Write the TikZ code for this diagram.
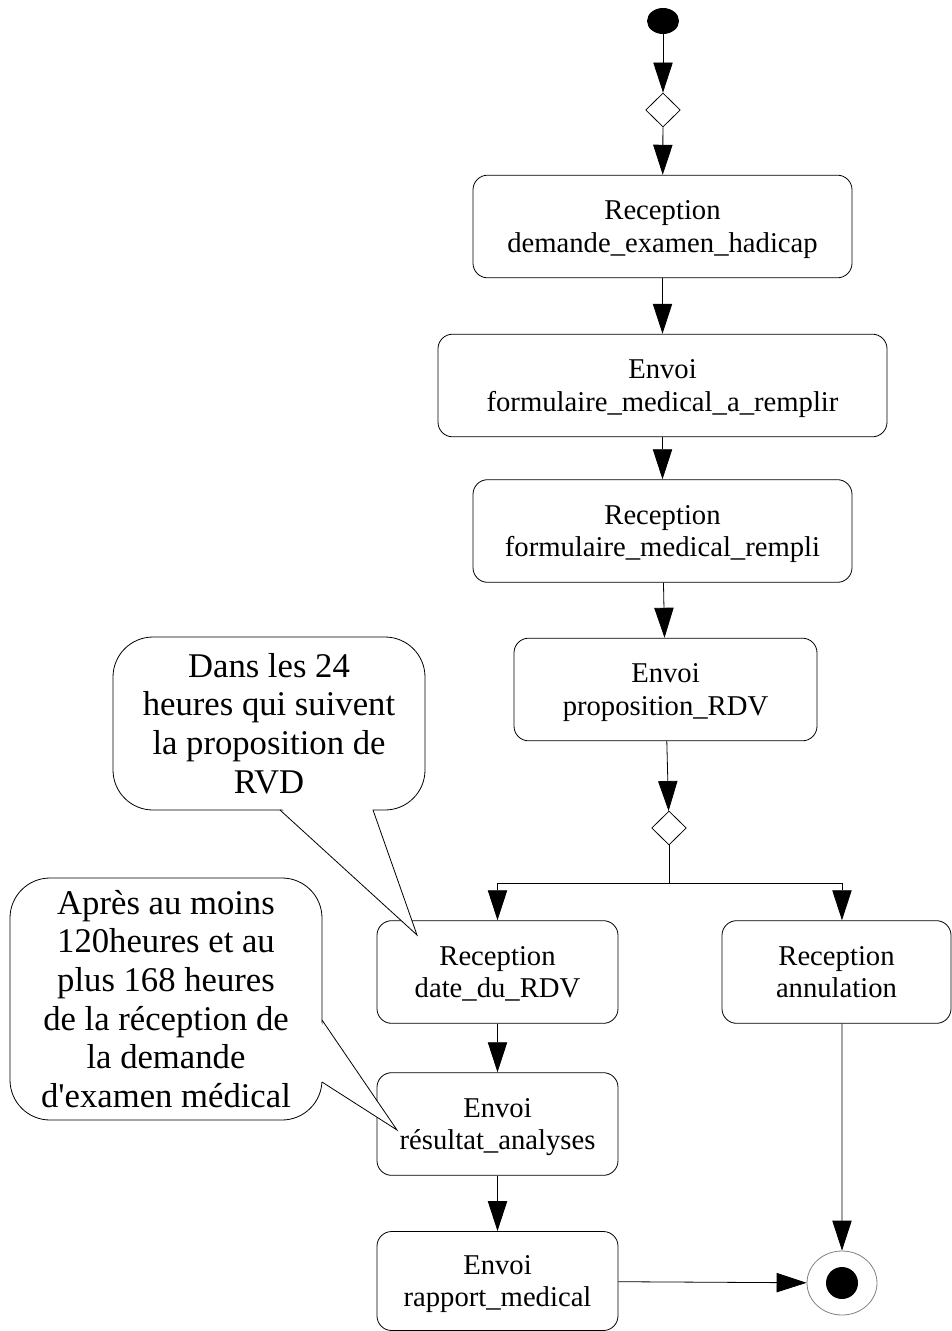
\documentclass[tikz,border=0pt]{standalone}
\usepackage{fontspec}
\setmainfont{Liberation Serif}[Ligatures=TeXOff]
\usepackage{tikz}
\usetikzlibrary{arrows.meta,shapes.geometric}

\begin{document}
\begin{tikzpicture}[x=0.75pt, y=-0.75pt, line width=0.6pt,
	activite/.style={draw, rounded corners=11pt, align=center, inner sep=0pt, minimum height=77pt, text depth=-2pt, font=\fontsize{21.5}{24.7}\selectfont},
	choix/.style={draw, diamond, inner sep=0pt, minimum width=26pt, minimum height=25.5pt},
	note/.style={draw, fill=white, rounded corners=30pt, align=center, inner sep=0pt, font=\fontsize{26}{29}\selectfont},
	fleche/.style={-{Triangle[length=22.5pt, width=14.5pt]}}]
					\useasboundingbox (0,0) rectangle (952,1331);
					\coordinate (fourche) at (669, 883);
					\coordinate (pointe24) at (417, 935);
					\coordinate (pointe120) at (397, 1130);
					
					\node[fill, ellipse, inner sep=0pt, minimum width=24pt, minimum height=19.5pt] (debut) at (663, 21) {};
					\node[choix] (choix1) at (663, 110) {};
					\node[activite, minimum width=284.25pt] (recdem) at (662.5, 226.5) {Reception\\demande\_examen\_hadicap};
					\node[activite, minimum width=336.75pt] (envform) at (662.5, 385.5) {Envoi\\formulaire\_medical\_a\_remplir};
					\node[activite, minimum width=284.25pt] (recform) at (662.5, 531) {Reception\\formulaire\_medical\_rempli};
					\node[activite, minimum width=227.25pt] (envprop) at (665.5, 689.5) {Envoi\\proposition\_RDV};
					\node[choix] (choix2) at (669, 828) {};
					\node[activite, minimum width=180.75pt] (recdate) at (497.5, 972) {Reception\\date\_du\_RDV};
					\node[activite, minimum width=171.75pt] (recannul) at (836.5, 972) {Reception\\annulation};
					\node[activite, minimum width=180.75pt] (envres) at (497.5, 1124) {Envoi\\résultat\_analyses};
					\node[activite, minimum width=180.75pt, minimum height=74.25pt] (envrap) at (497.5, 1281) {Envoi\\rapport\_medical};
					\node[draw=gray, ellipse, inner sep=0pt, minimum width=52.5pt, minimum height=48pt] (fin) at (842, 1283) {};
					\node[fill, circle, inner sep=0pt, minimum size=24pt] (fincentre) at (fin) {};
					
					\draw[fleche] (debut) -- (choix1);
					\draw[fleche] (choix1) -- (recdem);
					\draw[fleche] (recdem) -- (envform);
					\draw[fleche] (envform) -- (recform);
					\draw[fleche] (recform) -- (envprop);
					\draw[fleche] (envprop) -- (choix2);
					\draw (choix2.south) -- (fourche);
					\draw[fleche] (fourche) -| (recdate.north);
					\draw[fleche] (fourche) -| ([xshift=4.1pt]recannul.north);
					\draw[fleche] (recdate) -- (envres);
					\draw[fleche] (envres) -- (envrap);
					\draw[fleche] (envrap) -- (fin);
					\draw[fleche] ([xshift=4.1pt]recannul.south) -- (fin);
					
					\node[note, minimum width=234pt, minimum height=129.75pt] (note24) at (269, 723.5) {Dans les 24\\heures qui suivent\\la proposition de\\RVD};
					\fill[white] (281, 808) -- (pointe24) -- (372, 808) -- cycle;
					\draw (280, 810) -- (pointe24) -- (373, 810);
					
					\node[note, minimum width=234pt, minimum height=181.5pt] (note120) at (166, 999) {Après au moins\\120heures et au\\plus 168 heures\\de la réception de\\la demande\\d'examen médical};
					\fill[white] (320, 1021) -- (pointe120) -- (320, 1081) -- cycle;
					\draw (322, 1020) -- (pointe120) -- (322, 1082);
\end{tikzpicture}
\end{document}
